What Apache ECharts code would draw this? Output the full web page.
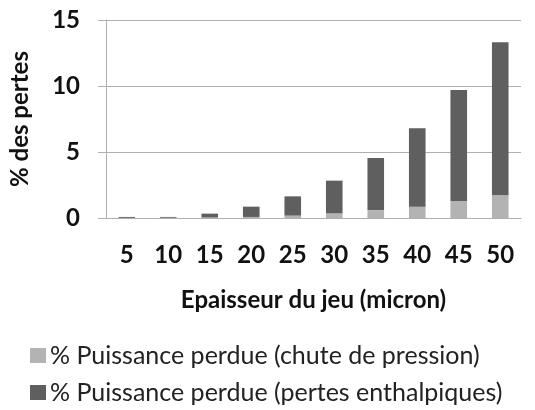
<!DOCTYPE html>
<html>
<head>
<meta charset="utf-8">
<script src="https://cdn.jsdelivr.net/npm/echarts@6/dist/echarts.min.js"></script>
<style>
  html, body { margin: 0; padding: 0; background: #fff; }
  #chart { width: 535px; height: 410px; }
</style>
</head>
<body>
<div id="chart"></div>
<script>
// epaisseur du jeu (micron)
const categories = ['5', '10', '15', '20', '25', '30', '35', '40', '45', '50'];
// % puissance perdue, chute de pression
const chutePression = [0.01, 0.02, 0.04, 0.08, 0.18, 0.35, 0.6, 0.86, 1.26, 1.72];
// % puissance perdue, pertes enthalpiques
const pertesEnthalpiques = [0.07, 0.06, 0.29, 0.78, 1.46, 2.48, 3.95, 5.93, 8.44, 11.59];
const yTicks = [0, 5, 10, 15];

const chart = echarts.init(document.getElementById('chart'));
const font = 'Lato, "Open Sans", sans-serif';

chart.setOption({
  animation: false,
  textStyle: { fontFamily: font },
  grid: { left: 98, right: 14, top: 20, bottom: 192 },
  legend: {
    orient: 'vertical',
    left: 25,
    top: 338,
    itemWidth: 16,
    itemHeight: 15,
    itemGap: 12,
    icon: 'rect',
    textStyle: { fontSize: 25, color: '#222', fontFamily: font, padding: [0, 0, 0, -1] }
  },
  xAxis: {
    type: 'category',
    data: categories,
    name: 'Epaisseur du jeu (micron)',
    nameLocation: 'middle',
    nameGap: 70,
    nameTextStyle: { fontSize: 24, fontWeight: 'bold', color: '#111' },
    axisLine: { lineStyle: { color: '#b0b0b0' } },
    axisTick: { length: 10, lineStyle: { color: '#b0b0b0' } },
    axisLabel: { fontSize: 24, fontWeight: 'bold', color: '#111', margin: 25 }
  },
  yAxis: {
    type: 'value',
    min: yTicks[0],
    max: yTicks[yTicks.length - 1],
    interval: 5,
    name: '% des pertes',
    nameLocation: 'middle',
    nameGap: 74,
    nameTextStyle: { fontSize: 24, fontWeight: 'bold', color: '#111' },
    axisLine: { show: true, lineStyle: { color: '#b0b0b0' } },
    axisTick: { show: true, length: 8, lineStyle: { color: '#b0b0b0' } },
    axisLabel: { fontSize: 24, fontWeight: 'bold', color: '#111', margin: 26 },
    splitLine: { lineStyle: { color: '#b0b0b0' } }
  },
  series: [
    {
      name: '% Puissance perdue (chute de pression)',
      type: 'bar',
      stack: 'pertes',
      barWidth: '40%',
      data: chutePression,
      itemStyle: { color: '#b3b3b3' }
    },
    {
      name: '% Puissance perdue (pertes enthalpiques)',
      type: 'bar',
      stack: 'pertes',
      barWidth: '40%',
      data: pertesEnthalpiques,
      itemStyle: { color: '#5f5f5f' }
    }
  ]
});
</script>
</body>
</html>
